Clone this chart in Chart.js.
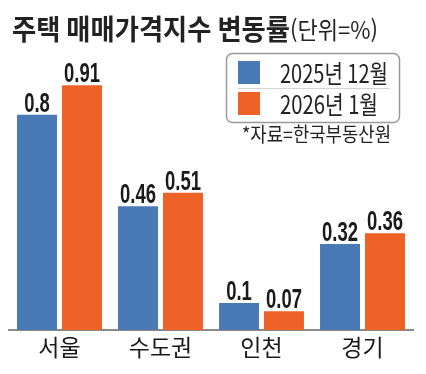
<!DOCTYPE html>
<html lang="ko">
<head>
<meta charset="UTF-8">
<title>주택 매매가격지수 변동률</title>
<style>
  html, body { margin: 0; padding: 0; background: #fff; }
  canvas { display: block; }
</style>
</head>
<body>
<script src="https://cdn.jsdelivr.net/npm/chart.js"></script>
<canvas id="myChart" width="426" height="374"></canvas>
<script>
  // 데이터
  const categories = ['서울', '수도권', '인천', '경기'];
  const seriesNames = ['2025년 12월', '2026년 1월'];
  const dec2025 = [0.8, 0.46, 0.1, 0.32];
  const jan2026 = [0.91, 0.51, 0.07, 0.36];
  const titleText = '주택 매매가격지수 변동률';
  const unitText = '(단위=%)';
  const sourceText = '*자료=한국부동산원';

  const BLUE = '#4a7ab5';
  const ORANGE = '#ee6228';
  const KR = '"Noto Sans CJK KR", "Noto Sans", sans-serif';

  // 가로로 눌러서 그리는 글자 (폭을 맞춤)
  function drawFit(ctx, text, x, y, font, width, align) {
    ctx.save();
    ctx.font = font;
    const w = ctx.measureText(text).width;
    const sx = width / w;
    ctx.translate(x, y);
    ctx.scale(sx, 1);
    ctx.textAlign = align || 'left';
    ctx.textBaseline = 'middle';
    ctx.fillText(text, 0, 0);
    ctx.restore();
    return width;
  }

  // 제목, 범례, 출처
  const decorPlugin = {
    id: 'decor',
    afterDraw(chart) {
      const ctx = chart.ctx;
      ctx.save();
      ctx.fillStyle = '#222';
      // 제목
      drawFit(ctx, titleText, 12, 29, 'bold 28px ' + KR, 278);
      drawFit(ctx, unitText, 290, 30, '24px ' + KR, 88);

      // 범례 상자
      ctx.strokeStyle = '#9a9a9a';
      ctx.lineWidth = 1.5;
      ctx.beginPath();
      ctx.roundRect(226.5, 53.5, 173, 69, 6);
      ctx.stroke();
      ctx.strokeStyle = '#d4d4d4';
      ctx.lineWidth = 1;
      ctx.beginPath();
      ctx.moveTo(238, 88.5);
      ctx.lineTo(390, 88.5);
      ctx.stroke();

      const ds = chart.data.datasets;
      const widths = [108, 98];
      ds.forEach((d, i) => {
        const y = 61 + i * 31;
        ctx.fillStyle = d.backgroundColor;
        ctx.fillRect(238, y, 22, 23);
        ctx.fillStyle = '#222';
        drawFit(ctx, d.label, 280, y + 12, '25px ' + KR, widths[i]);
      });

      // 출처
      drawFit(ctx, sourceText, 242, 134, '20px ' + KR, 149);
      ctx.restore();
    }
  };

  // 막대 위 값
  const valuePlugin = {
    id: 'values',
    afterDatasetsDraw(chart) {
      const ctx = chart.ctx;
      ctx.save();
      ctx.fillStyle = '#1a1a1a';
      ctx.font = 'bold 28px "Liberation Sans", Arial, sans-serif';
      ctx.textAlign = 'center';
      ctx.textBaseline = 'alphabetic';
      chart.data.datasets.forEach((d, i) => {
        chart.getDatasetMeta(i).data.forEach((bar, j) => {
          ctx.save();
          ctx.translate(bar.x, bar.y - 3);
          ctx.scale(0.66, 1);
          ctx.fillText(String(d.data[j]), 0, 0);
          ctx.restore();
        });
      });
      ctx.restore();
    }
  };

  const ctx = document.getElementById('myChart').getContext('2d');
  const myChart = new Chart(ctx, {
    type: 'bar',
    data: {
      labels: categories,
      datasets: [
        { label: seriesNames[0], data: dec2025, backgroundColor: BLUE },
        { label: seriesNames[1], data: jan2026, backgroundColor: ORANGE }
      ]
    },
    options: {
      responsive: false,
      animation: false,
      devicePixelRatio: 1,
      layout: { padding: { left: 9, right: 13, top: 61, bottom: 0 } },
      datasets: { bar: { categoryPercentage: 0.89, barPercentage: 0.89 } },
      plugins: { legend: { display: false }, tooltip: { enabled: false } },
      scales: {
        y: { display: false, min: 0, max: 1 },
        x: {
          grid: { display: false, drawTicks: false },
          border: { display: true, color: '#8a8a8a', width: 2 },
          ticks: {
            padding: 3,
            color: '#1a1a1a',
            font: { family: KR, size: 23 }
          },
          afterFit(scale) { scale.height = 44; }
        }
      }
    },
    plugins: [valuePlugin, decorPlugin]
  });
</script>
</body>
</html>
